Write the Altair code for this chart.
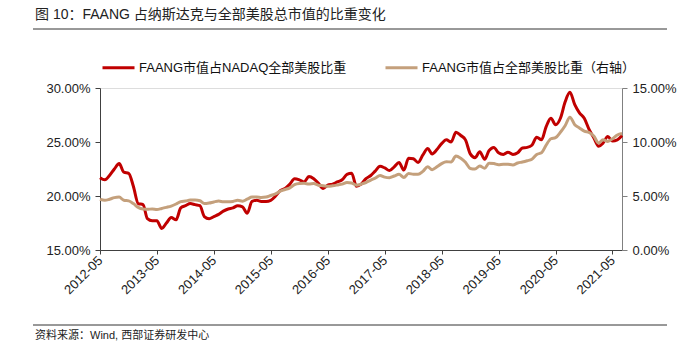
import altair as alt
import pandas as pd

# monthly observations, 2012-05 ... 2021-07
months = pd.date_range("2012-05-01", "2021-07-01", freq="MS").strftime("%Y/%m/%d").tolist()

# FAANG share of NASDAQ-listed US stocks market cap (%), left axis
nasdaq_share = [
    21.7, 21.5, 21.9, 22.5, 23.0, 22.2, 22.1, 20.9, 19.3, 19.2,
    17.9, 17.7, 17.7, 17.0, 17.5, 18.0, 17.8, 18.9, 19.1, 19.3,
    19.2, 19.1, 18.1, 17.9, 18.1, 18.3, 18.6, 18.8, 18.9, 19.1,
    19.0, 18.4, 19.5, 19.6, 19.5, 19.5, 19.6, 20.0, 20.5, 20.7,
    21.1, 21.6, 21.5, 21.3, 21.8, 21.6, 21.2, 20.7, 21.0, 21.1,
    21.3, 21.5, 22.0, 22.1, 20.9, 21.1, 21.6, 21.9, 22.3, 22.75,
    22.6, 22.35, 22.7, 23.1, 22.4, 23.5, 23.45, 23.1, 23.8, 24.4,
    23.9, 24.3, 24.85, 25.2, 25.0, 25.9, 25.6, 25.2, 23.9, 23.55,
    24.1, 23.4, 24.2, 24.5, 24.0, 23.85, 24.05, 23.85, 24.0, 24.45,
    24.5, 24.7, 25.45, 25.2, 26.4, 27.2, 26.6, 27.2, 28.7, 29.6,
    28.45, 27.7, 27.2, 26.2, 25.4, 24.6, 24.9, 25.5, 25.1, 25.2,
    25.6,
]

# FAANG share of all US stocks market cap (%), right axis
us_share = [
    4.7, 4.6, 4.7, 4.85, 4.9, 4.6, 4.55, 4.3, 3.95, 3.8,
    3.77, 3.8, 3.75, 3.85, 3.95, 4.07, 4.26, 4.48, 4.54, 4.62,
    4.63, 4.56, 4.3, 4.35, 4.45, 4.53, 4.47, 4.46, 4.5, 4.6,
    4.52, 4.7, 4.9, 4.9, 4.86, 4.9, 5.05, 5.2, 5.45, 5.6,
    5.75, 6.05, 6.15, 6.17, 6.1, 6.15, 6.0, 5.95, 5.9, 5.95,
    6.02, 6.1, 6.25, 6.2, 6.0, 6.1, 6.25, 6.48, 6.65, 6.9,
    6.75, 6.7, 6.85, 7.01, 6.72, 7.08, 7.02, 7.01, 7.28, 7.71,
    7.43, 7.7, 8.0, 8.17, 8.15, 8.7, 8.49, 8.12, 7.55, 7.5,
    7.78, 7.56, 8.03, 8.0, 7.9, 7.95, 7.93, 7.88, 8.05, 8.15,
    8.27, 8.4, 8.85, 9.0, 9.7, 10.3, 10.4, 10.9, 11.5, 12.3,
    11.6, 11.3, 11.0, 10.9, 10.55, 9.9, 10.2, 10.05, 10.3, 10.65,
    10.78,
]

series_names = ["FAANG市值占NADAQ全部美股比重", "FAANG市值占全部美股比重（右轴）"]
series_colors = ["#C00000", "#C4A07C"]
left_ticks = [15, 20, 25, 30]
right_ticks = [0, 5, 10, 15]
tick_years = list(range(2012, 2022))

title_text = "图 10：FAANG 占纳斯达克与全部美股总市值的比重变化"
source_text = "资料来源：Wind, 西部证券研发中心"

FONT = "Liberation Sans, Noto Sans CJK SC, sans-serif"

df1 = pd.DataFrame({"date": months, "value": nasdaq_share, "series": series_names[0]})
df2 = pd.DataFrame({"date": months, "value": us_share, "series": series_names[1]})

legend = alt.Legend(
    title=None, orient="none", legendX=1, legendY=-38, direction="horizontal",
    symbolType="stroke", symbolSize=1024, symbolStrokeWidth=3,
    labelFontSize=13, labelFont=FONT, labelColor="#111111", labelOffset=3,
    columnPadding=32, padding=0, labelLimit=400,
)
color = alt.Color("series:N", scale=alt.Scale(domain=series_names, range=series_colors), legend=legend)

x_enc = alt.X(
    "date:T", title=None,
    scale=alt.Scale(nice=False),
    axis=alt.Axis(
        values=[alt.DateTime(year=y, month=5, date=1) for y in tick_years],
        format="%Y-%m", labelAngle=315, labelAlign="right", labelBaseline="middle",
        labelPadding=4, tickSize=4, grid=False, labelFontSize=13, labelFont=FONT,
        labelColor="#222222", domainColor="#404040", tickColor="#404040",
    ),
)

left = alt.Chart(df1).mark_line(strokeWidth=3, interpolate="monotone").encode(
    x=x_enc,
    y=alt.Y("value:Q", title=None,
            scale=alt.Scale(domain=[15, 30], nice=False, zero=False),
            axis=alt.Axis(orient="left", values=left_ticks, labelExpr="format(datum.value, '.2f') + '%'",
                          tickSize=5, labelPadding=5, grid=False, labelFontSize=13, labelFont=FONT,
                          labelColor="#222222", domainColor="#404040", tickColor="#404040")),
    color=color,
)

right = alt.Chart(df2).mark_line(strokeWidth=3, interpolate="monotone").encode(
    x=x_enc,
    y=alt.Y("value:Q", title=None,
            scale=alt.Scale(domain=[0, 15], nice=False),
            axis=alt.Axis(orient="right", values=right_ticks, labelExpr="format(datum.value, '.2f') + '%'",
                          tickSize=5, labelPadding=5, grid=False, labelFontSize=13, labelFont=FONT,
                          labelColor="#222222", domainColor="#808080", tickColor="#808080")),
    color=color,
)

title_layer = alt.Chart(pd.DataFrame({"t": [title_text]})).mark_text(
    align="left", baseline="middle", fontSize=14, font=FONT, color="#222222"
).encode(text="t:N", x=alt.value(-65), y=alt.value(-73))

source_layer = alt.Chart(pd.DataFrame({"t": [source_text]})).mark_text(
    align="left", baseline="middle", fontSize=11, font=FONT, color="#222222"
).encode(text="t:N", x=alt.value(-65), y=alt.value(248))

rule_top = alt.Chart(pd.DataFrame({"a": [0]})).mark_rule(color="#333333", strokeWidth=1).encode(
    x=alt.value(-67), x2=alt.value(567), y=alt.value(-59))
rule_bottom = alt.Chart(pd.DataFrame({"a": [0]})).mark_rule(color="#333333", strokeWidth=1).encode(
    x=alt.value(-67), x2=alt.value(567), y=alt.value(237))

chart = alt.layer(left, right, title_layer, source_layer, rule_top, rule_bottom).resolve_scale(
    y="independent"
).properties(
    width=522, height=162,
    autosize=alt.AutoSizeParams(type="none"),
    padding={"left": 100, "top": 88, "right": 78, "bottom": 103},
).configure_view(strokeWidth=0).configure_axis(
    labelFont=FONT, labelFontSize=13, labelColor="#222222",
).configure(background="white")

chart.save("out.html", embed_options={"renderer": "svg", "actions": False})
